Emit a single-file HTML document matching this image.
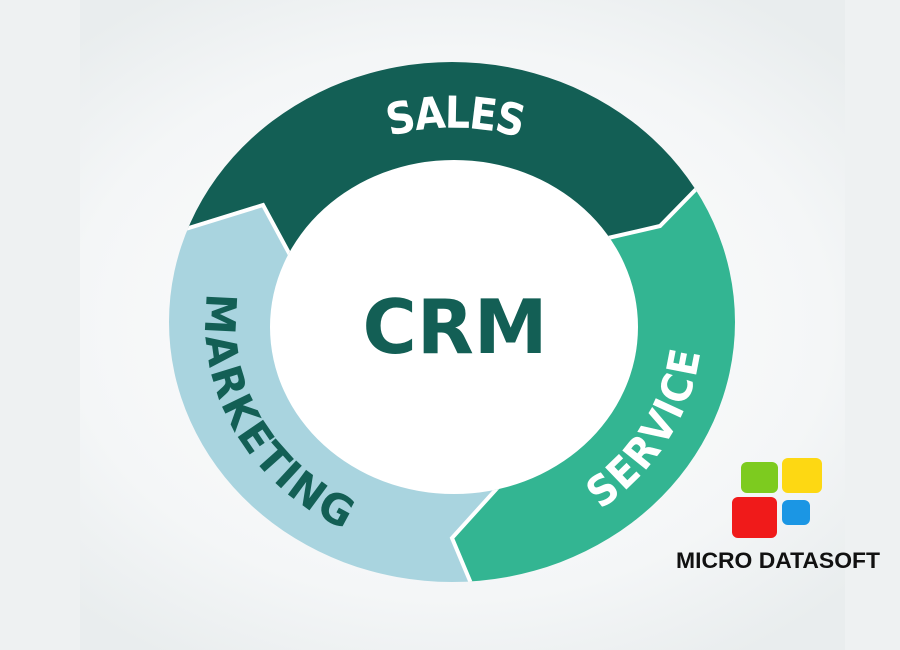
<!DOCTYPE html>
<html><head><meta charset="utf-8"><style>
html,body{margin:0;padding:0;width:900px;height:650px;overflow:hidden;background:#f2f4f5}
</style></head><body>
<svg width="900" height="650" viewBox="0 0 900 650" xmlns="http://www.w3.org/2000/svg">
<defs>
<radialGradient id="bg" cx="50%" cy="50%" r="60%">
<stop offset="0" stop-color="#ffffff"/><stop offset="0.7" stop-color="#f4f6f7"/><stop offset="1" stop-color="#e9edee"/>
</radialGradient>
<clipPath id="ring"><path clip-rule="evenodd" d="M169,322 a283,260 0 1,0 566,0 a283,260 0 1,0 -566,0 Z M270,327 a184,167 0 1,0 368,0 a184,167 0 1,0 -368,0 Z"/></clipPath>
<path id="pSales" d="M234,252 A233,213 0 0,1 672,252"/>
<path id="pMkt" d="M303,162 A233,213 0 0,0 555,516"/>
<path id="pSvc" d="M354.5,518 A233,213 0 0,0 586.6,150.5"/>
</defs>
<rect x="0" y="0" width="900" height="650" fill="url(#bg)"/>
<rect x="0" y="0" width="80" height="650" fill="#eef1f2"/>
<rect x="845" y="0" width="55" height="650" fill="#eef1f2"/>
<ellipse cx="454" cy="327" rx="184" ry="167" fill="#ffffff"/>
<g clip-path="url(#ring)">
<polygon fill="#135f55" points="453,325 290,255 263,205 150,240 0,0 900,0 900,60 705,180 660,226 608,238"/>
<polygon fill="#33b592" points="453,325 608,238 660,226 705,180 900,60 900,650 478,650 478,600 452,538 500,485"/>
<polygon fill="#a9d4df" points="453,325 500,485 452,538 478,600 478,650 0,650 0,0 150,240 263,205 290,255"/>
<polyline fill="none" stroke="#ffffff" stroke-width="4" points="150,240 263,205 290,255"/>
<polyline fill="none" stroke="#ffffff" stroke-width="4" points="608,238 660,226 705,180"/>
<polyline fill="none" stroke="#ffffff" stroke-width="4" points="500,485 452,538 478,600"/>
</g>
<g font-family="'DejaVu Sans','Liberation Sans',sans-serif" font-weight="bold">
<text fill="#ffffff" dy="16" font-size="44"><textPath href="#pSales" startOffset="50.5%" text-anchor="middle" textLength="140" lengthAdjust="spacingAndGlyphs">SALES</textPath></text>
<text fill="#135f55" dy="16" font-size="42"><textPath href="#pMkt" startOffset="46%" text-anchor="middle" textLength="275" lengthAdjust="spacingAndGlyphs">MARKETING</textPath></text>
<text fill="#ffffff" dy="16" font-size="42"><textPath href="#pSvc" startOffset="51%" text-anchor="middle" textLength="180" lengthAdjust="spacingAndGlyphs">SERVICE</textPath></text>
<text x="455" y="353" text-anchor="middle" fill="#135f55" font-size="75" textLength="185" lengthAdjust="spacingAndGlyphs">CRM</text>
</g>
<rect x="741" y="462" width="37" height="31" rx="6" fill="#7dcb1f"/>
<rect x="782" y="458" width="40" height="35" rx="6" fill="#fdd813"/>
<rect x="732" y="497" width="45" height="41" rx="6" fill="#f01a1a"/>
<rect x="782" y="500" width="28" height="25" rx="6" fill="#1b96e4"/>
<text x="778" y="568" text-anchor="middle" font-family="'Liberation Sans',sans-serif" font-weight="bold" font-size="22" fill="#111" textLength="204" lengthAdjust="spacingAndGlyphs">MICRO DATASOFT</text>
</svg>
</body></html>
